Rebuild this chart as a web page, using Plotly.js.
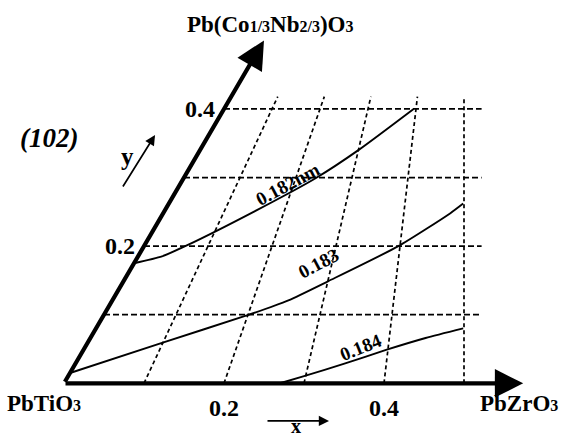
<!DOCTYPE html>
<html>
<head>
<meta charset="utf-8">
<script src="https://cdn.plot.ly/plotly-3.0.1.min.js"></script>
<style>
html,body{margin:0;padding:0;background:#fff;}
#chart{width:562px;height:438px;}
</style>
</head>
<body>
<div id="chart"></div>
<script>
// Composition coordinates: x = PbZrO3 fraction (base axis), y = Pb(Co1/3Nb2/3)O3 fraction (slanted axis, 60 deg)
const contourLabels = ['0.182nm', '0.183', '0.184'];

const c182X = [0.000, 0.030, 0.053, 0.112, 0.165, 0.198, 0.237];
const c182Y = [0.175, 0.185, 0.201, 0.250, 0.299, 0.340, 0.400];

const c183X = [0.000, 0.093, 0.179, 0.220, 0.256, 0.318, 0.359, 0.368];
const c183Y = [0.015, 0.059, 0.099, 0.121, 0.149, 0.200, 0.248, 0.262];

const c184X = [0.270, 0.294, 0.337, 0.379, 0.419, 0.459];
const c184Y = [0.000, 0.010, 0.029, 0.049, 0.066, 0.080];

// grid: lines of constant Zr ratio and constant PCN content
const zrRatios = [0.1, 0.2, 0.3, 0.4, 0.5];
const pcnLevels = [0.1, 0.2, 0.3, 0.4];

const xTickVals = [0.2, 0.4];
const yTickVals = [0.2, 0.4];

const S60 = Math.sin(Math.PI / 3);
const cx = (x, y) => x + 0.5 * y;
const cy = (y) => y * S60;

const FONT = 'Liberation Serif, Times New Roman, serif';
const traces = [];

// constant-ratio dashed lines (from base up to y ~ 0.418)
const yTop = 0.418;
zrRatios.forEach(r => {
  const ys = [0, yTop];
  traces.push({
    type: 'scatter', mode: 'lines', hoverinfo: 'skip',
    x: ys.map(y => cx(r * (1 - y), y)),
    y: ys.map(y => cy(y)),
    line: {color: '#000', width: 1.7, dash: '4px,3px'}
  });
});

// constant-PCN dashed lines (from slanted axis to right edge)
const xRight = 0.522;
pcnLevels.forEach(v => {
  traces.push({
    type: 'scatter', mode: 'lines', hoverinfo: 'skip',
    x: [cx(0, v), xRight],
    y: [cy(v), cy(v)],
    line: {color: '#000', width: 1.7, dash: '6px,3px'}
  });
});

// contour curves
[[c182X, c182Y], [c183X, c183Y], [c184X, c184Y]].forEach(([xs, ys]) => {
  traces.push({
    type: 'scatter', mode: 'lines', hoverinfo: 'skip',
    x: xs.map((x, i) => cx(x, ys[i])),
    y: ys.map(y => cy(y)),
    line: {color: '#000', width: 1.9, shape: 'spline', smoothing: 0.6}
  });
});

const bold = (t) => '<b>' + t + '</b>';
const sm = (t) => '<span style="font-size:16px">' + t + '</span>';

const ann = [];
// main axes as arrows
ann.push({x: 0.574, y: 0, ax: 0, ay: 0, xref: 'x', yref: 'y', axref: 'x', ayref: 'y',
  showarrow: true, text: '', arrowhead: 2, arrowsize: 1.35, arrowwidth: 4.2, arrowcolor: '#000'});
ann.push({x: cx(0, 0.5), y: cy(0.5), ax: 0, ay: 0, xref: 'x', yref: 'y', axref: 'x', ayref: 'y',
  showarrow: true, text: '', arrowhead: 2, arrowsize: 1.35, arrowwidth: 4.2, arrowcolor: '#000'});

// small direction arrows
ann.push({x: 0.3313, y: -0.0476, ax: 0.2525, ay: -0.0476, xref: 'x', yref: 'y', axref: 'x', ayref: 'y',
  showarrow: true, text: '', arrowhead: 2, arrowsize: 1.2, arrowwidth: 1.7, arrowcolor: '#000'});
ann.push({x: 0.1138, y: 0.3135, ax: 0.0725, ay: 0.2466, xref: 'x', yref: 'y', axref: 'x', ayref: 'y',
  showarrow: true, text: '', arrowhead: 2, arrowsize: 1.2, arrowwidth: 1.7, arrowcolor: '#000'});

const txt = (x, y, text, size, extra) => Object.assign({
  x: x, y: y, xref: 'paper', yref: 'paper', text: text, showarrow: false,
  xanchor: 'center', yanchor: 'middle', font: {family: FONT, size: size, color: '#000'}
}, extra || {});
const P = (px, py) => [px / 562, 1 - py / 438];

// tick labels on base axis
xTickVals.forEach(v => {
  ann.push({x: cx(v, 0), y: 0, xref: 'x', yref: 'y', text: bold(String(v)), showarrow: false,
    xanchor: 'center', yanchor: 'middle', yshift: -25, font: {family: FONT, size: 24, color: '#000'}});
});
// tick labels on slanted axis
yTickVals.forEach(v => {
  ann.push({x: cx(0, v), y: cy(v), xref: 'x', yref: 'y', text: bold(String(v)), showarrow: false,
    xanchor: 'right', yanchor: 'middle', xshift: -7, font: {family: FONT, size: 24, color: '#000'}});
});

let p;
p = P(44, 403); ann.push(txt(p[0], p[1], bold('PbTiO' + sm('3')), 23));
p = P(519, 403); ann.push(txt(p[0], p[1], bold('PbZrO' + sm('3')), 23));
p = P(270, 25); ann.push(txt(p[0], p[1], bold('Pb(Co' + sm('1/3') + 'Nb' + sm('2/3') + ')O' + sm('3')), 23));
p = P(49, 138); ann.push(txt(p[0], p[1], '<b><i>(102)</i></b>', 27));
p = P(127, 157); ann.push(txt(p[0], p[1], bold('y'), 25));
ann.push(txt(296 / 562, 0, bold('x'), 20, {yanchor: 'bottom', borderpad: 0}));

p = P(287, 184); ann.push(txt(p[0], p[1], bold(contourLabels[0]), 19, {textangle: -28}));
p = P(318, 263); ann.push(txt(p[0], p[1], bold(contourLabels[1]), 19, {textangle: -28}));
p = P(360, 347); ann.push(txt(p[0], p[1], bold(contourLabels[2]), 19, {textangle: -22}));

const layout = {
  width: 562, height: 438,
  margin: {l: 0, r: 0, t: 0, b: 0},
  paper_bgcolor: '#fff', plot_bgcolor: '#fff',
  showlegend: false,
  xaxis: {range: [-0.08, 0.6225], visible: false, fixedrange: true},
  yaxis: {range: [-0.0691, 0.484], visible: false, fixedrange: true},
  annotations: ann,
  font: {family: FONT, color: '#000'}
};

Plotly.newPlot('chart', traces, layout, {displayModeBar: false, staticPlot: true});
</script>
</body>
</html>
